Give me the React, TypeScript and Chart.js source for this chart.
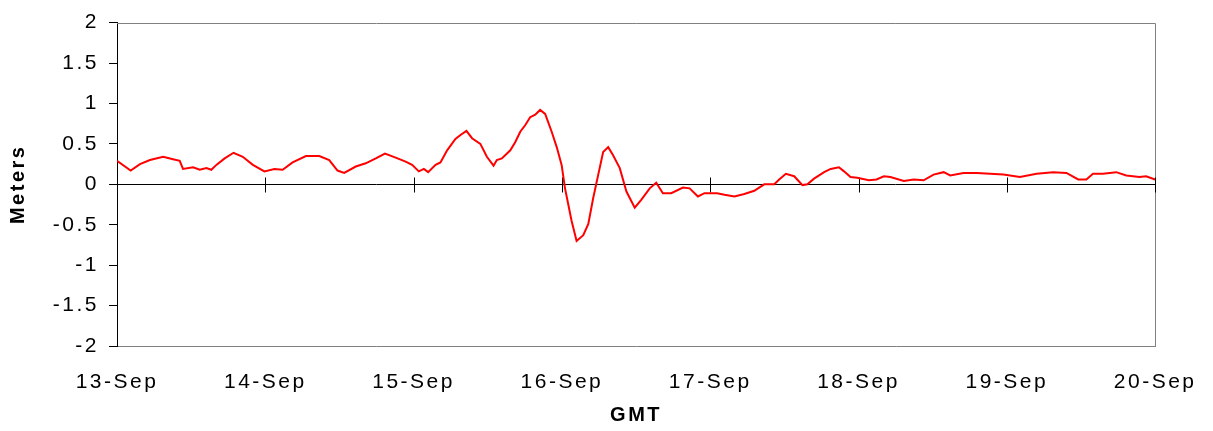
import React, { useEffect, useRef } from 'react';
import { Chart, registerables } from 'chart.js';

Chart.register(...registerables);

const dayLabels = ['13-Sep', '14-Sep', '15-Sep', '16-Sep', '17-Sep', '18-Sep', '19-Sep', '20-Sep'];

// time in days since 13-Sep 00:00 GMT
const times = [
  0, 0.092, 0.155, 0.222, 0.311, 0.378, 0.423, 0.445, 0.513, 0.558, 0.603, 0.636, 0.67, 0.726, 0.786, 0.848, 0.916, 0.994,
  1.061, 1.117, 1.184, 1.274, 1.364, 1.431, 1.487, 1.532, 1.61, 1.677, 1.745, 1.807, 1.879, 1.946, 1.99,
  2.035, 2.069, 2.098, 2.148, 2.181, 2.226, 2.282, 2.316, 2.356, 2.394, 2.45, 2.494, 2.539, 2.561, 2.595, 2.652, 2.685,
  2.719, 2.752, 2.786, 2.82, 2.853, 2.887, 2.931, 2.965, 2.998,
  3.021, 3.043, 3.065, 3.099, 3.144, 3.178, 3.211, 3.245, 3.278, 3.312, 3.345, 3.39, 3.435, 3.491, 3.536, 3.592, 3.636,
  3.681, 3.737, 3.816, 3.861, 3.917, 3.961,
  4.046, 4.096, 4.163, 4.23, 4.297, 4.364, 4.432, 4.465, 4.51, 4.566, 4.622, 4.655, 4.7, 4.768, 4.812, 4.868, 4.902,
  4.946, 4.991,
  5.07, 5.121, 5.171, 5.215, 5.305, 5.372, 5.439, 5.506, 5.574, 5.618, 5.708, 5.797, 5.887, 5.977,
  6.088, 6.201, 6.313, 6.402, 6.481, 6.536, 6.581, 6.648, 6.738, 6.805, 6.894, 6.939, 7.0,
];

// water level, meters
const levels = [
  0.29, 0.17, 0.25, 0.3, 0.34, 0.31, 0.29, 0.19, 0.21, 0.18, 0.2, 0.18, 0.24, 0.32, 0.39, 0.34, 0.24, 0.16,
  0.19, 0.18, 0.27, 0.35, 0.35, 0.3, 0.17, 0.14, 0.22, 0.26, 0.32, 0.38, 0.33, 0.28, 0.24,
  0.16, 0.19, 0.15, 0.24, 0.27, 0.42, 0.56, 0.61, 0.66, 0.57, 0.5, 0.34, 0.23, 0.3, 0.32, 0.42, 0.52,
  0.65, 0.73, 0.83, 0.86, 0.92, 0.87, 0.65, 0.46, 0.24,
  -0.05, -0.25, -0.45, -0.7, -0.63, -0.49, -0.17, 0.12, 0.4, 0.46, 0.36, 0.2, -0.09, -0.29, -0.19, -0.05, 0.02,
  -0.11, -0.11, -0.04, -0.05, -0.15, -0.11,
  -0.11, -0.13, -0.15, -0.12, -0.08, 0.0, 0.0, 0.06, 0.13, 0.1, -0.01, 0.0, 0.07, 0.15, 0.19, 0.21, 0.16,
  0.09, 0.08,
  0.05, 0.06, 0.1, 0.09, 0.04, 0.06, 0.05, 0.12, 0.15, 0.11, 0.14, 0.14, 0.13, 0.12,
  0.09, 0.13, 0.15, 0.14, 0.06, 0.06, 0.13, 0.13, 0.15, 0.11, 0.09, 0.1, 0.06,
];

const yMin = -2;
const yMax = 2;
const yStep = 0.5;

const FONT = "'Liberation Sans', Arial, sans-serif";

export default function App() {
  const ref = useRef<HTMLCanvasElement>(null);

  useEffect(() => {
    if (!ref.current) return;

    const framePlugin = {
      id: 'frame',
      beforeDraw(chart: any) {
        chart.ctx.letterSpacing = '2.5px';
      },
      beforeDatasetsDraw(chart: any) {
        const { ctx, chartArea: a, scales } = chart;
        const top = Math.round(a.top) + 0.5;
        const right = Math.round(a.right) + 0.5;
        ctx.save();
        ctx.lineWidth = 1;
        ctx.strokeStyle = '#808080';
        ctx.beginPath();
        ctx.moveTo(a.left, top);
        ctx.lineTo(right, top);
        ctx.lineTo(right, a.bottom);
        ctx.stroke();
        const y0 = Math.round(scales.y.getPixelForValue(0)) + 0.5;
        ctx.strokeStyle = '#000000';
        ctx.beginPath();
        ctx.moveTo(a.left, y0);
        ctx.lineTo(a.right, y0);
        for (let i = 0; i < dayLabels.length; i++) {
          const x = Math.round(scales.x.getPixelForValue(i)) + 0.5;
          ctx.moveTo(x, y0 - 7);
          ctx.lineTo(x, y0 + 8);
        }
        ctx.stroke();
        ctx.restore();
      },
    };

    const chart = new Chart(ref.current, {
      type: 'line',
      data: {
        datasets: [
          {
            data: times.map((t, i) => ({ x: t, y: levels[i] })),
            borderColor: '#FF0000',
            borderWidth: 2,
            pointRadius: 0,
            tension: 0,
            fill: false,
          },
        ],
      },
      options: {
        animation: false,
        responsive: false,
        devicePixelRatio: 1,
        layout: { padding: { left: 0, top: 20, right: 55, bottom: 0 } },
        plugins: { legend: { display: false }, tooltip: { enabled: false } },
        scales: {
          x: {
            type: 'linear',
            min: 0,
            max: dayLabels.length - 1,
            afterFit: (s: any) => {
              s.height = 85;
            },
            grid: { display: false, drawTicks: false },
            border: { display: true, color: '#808080', width: 1 },
            ticks: {
              stepSize: 1,
              autoSkip: false,
              maxRotation: 0,
              padding: 24,
              color: '#000000',
              font: { family: FONT, size: 21 },
              callback: (v: any) => dayLabels[Math.round(Number(v))] ?? '',
            },
            title: {
              display: true,
              text: 'GMT',
              color: '#000000',
              font: { family: FONT, size: 20, weight: 'bold' },
              padding: { top: 0, bottom: 4 },
            },
          },
          y: {
            type: 'linear',
            min: yMin,
            max: yMax,
            afterFit: (s: any) => {
              s.width = 117;
            },
            grid: { display: true, drawOnChartArea: false, drawTicks: true, tickLength: 8, color: '#000000' },
            border: { display: true, color: '#000000', width: 1 },
            ticks: {
              stepSize: yStep,
              padding: 10,
              color: '#000000',
              font: { family: FONT, size: 21 },
              callback: (v: any) => String(Number(v)),
            },
            title: {
              display: true,
              text: 'Meters',
              color: '#000000',
              font: { family: FONT, size: 20, weight: 'bold' },
              padding: { top: 6, bottom: 0 },
            },
          },
        },
      },
      plugins: [framePlugin],
    } as any);

    return () => chart.destroy();
  }, []);

  return (
    <div style={{ position: 'absolute', left: 0, top: 0, width: 1213, height: 431, background: '#ffffff' }}>
      <canvas ref={ref} width={1213} height={431} style={{ display: 'block', width: 1213, height: 431 }} />
    </div>
  );
}
